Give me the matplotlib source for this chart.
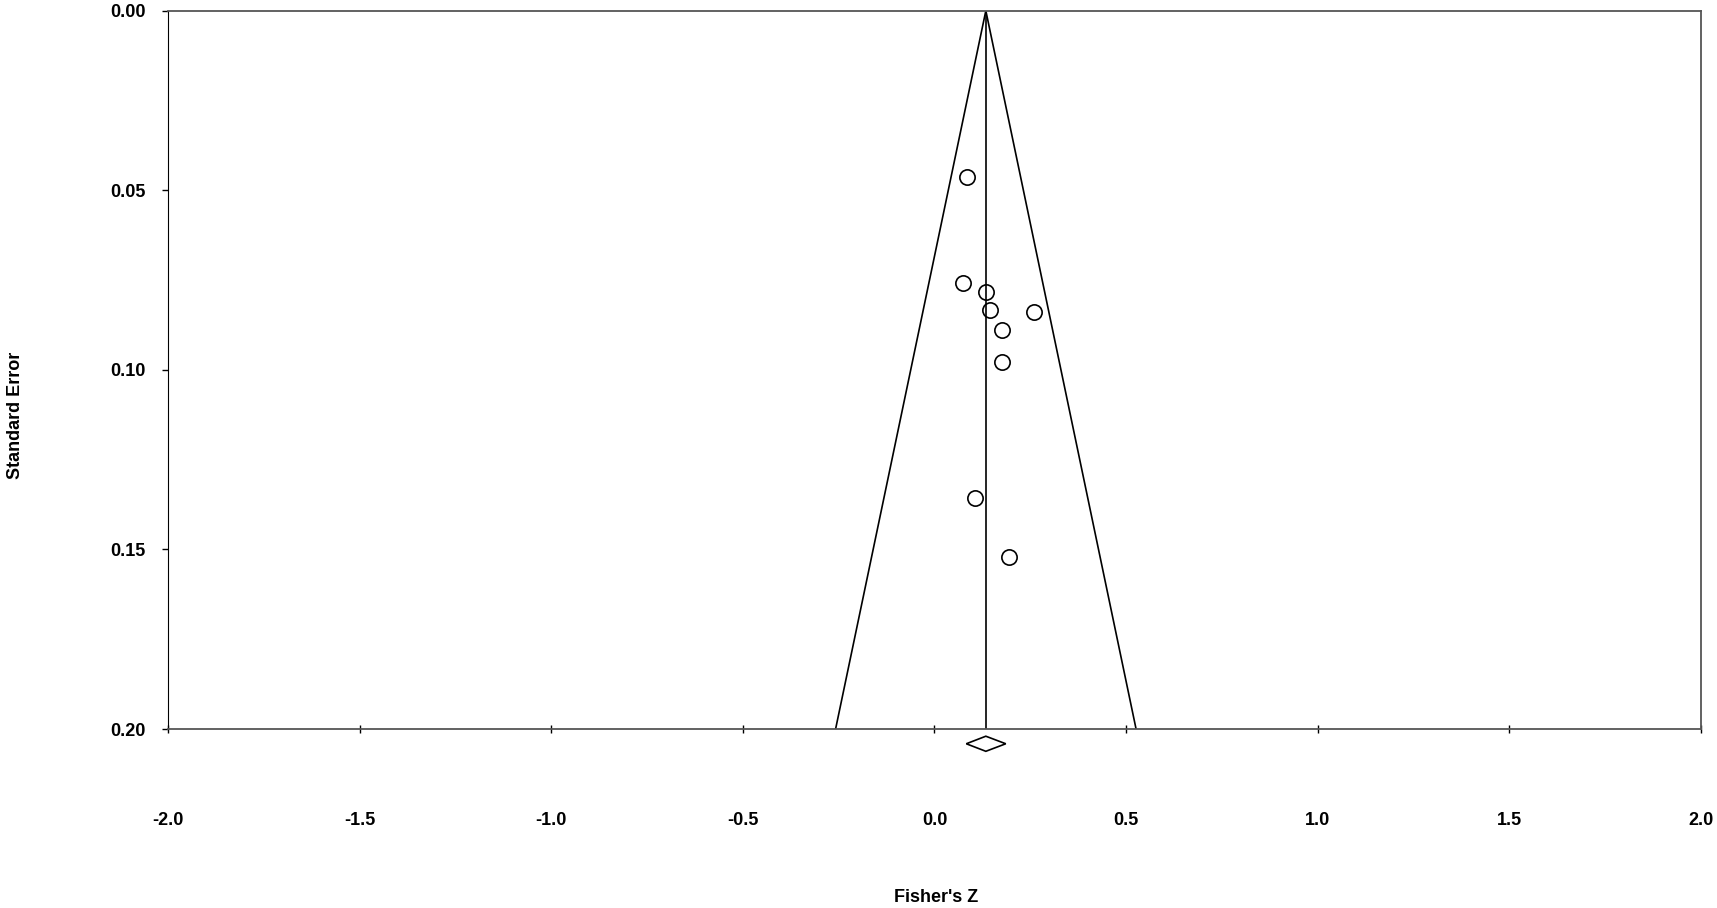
import numpy as np
import matplotlib
matplotlib.use("Agg")
import matplotlib.pyplot as plt

plt.rcParams["font.family"] = ["Liberation Sans", "DejaVu Sans"]

# study effects (Fisher's Z) and standard errors
fisher_z = [0.084, 0.074, 0.135, 0.146, 0.259, 0.176, 0.176, 0.106, 0.195]
std_err = [0.0463, 0.0759, 0.0782, 0.0833, 0.0839, 0.0890, 0.0978, 0.1357, 0.1520]

pooled = 0.134
ci_low = 0.083
ci_high = 0.186
se_max = 0.20

x_ticks = [-2.0, -1.5, -1.0, -0.5, 0.0, 0.5, 1.0, 1.5, 2.0]
y_ticks = [0.00, 0.05, 0.10, 0.15, 0.20]

fig = plt.figure(figsize=(17.17, 9.08), dpi=100)
ax = fig.add_axes([0.0978, 0.1971, 0.8929, 0.7911])

# funnel
se_line = np.array([0.0, se_max])
ax.plot(pooled - 1.96 * se_line, se_line, color="black", lw=1.2)
ax.plot(pooled + 1.96 * se_line, se_line, color="black", lw=1.2)
ax.plot([pooled, pooled], [0, se_max], color="black", lw=1.2)

ax.plot(fisher_z, std_err, "o", ms=11, mfc="none", mec="black", mew=1.2)

# pooled estimate diamond below the axis
dy = 0.0021
ax.fill([ci_low, pooled, ci_high, pooled], [0.2041, 0.2041 - dy, 0.2041, 0.2041 + dy],
        facecolor="white", edgecolor="black", lw=1.2, clip_on=False)

ax.set_xlim(-2.0, 2.0)
ax.set_ylim(0.20, 0.00)
ax.set_xticks(x_ticks)
ax.set_xticklabels([f"{v:.1f}" for v in x_ticks])
ax.set_yticks(y_ticks)
ax.set_yticklabels([f"{v:.2f}" for v in y_ticks])
ax.tick_params(axis="x", direction="inout", length=6, width=1, pad=57, labelsize=13)
ax.tick_params(axis="y", direction="out", length=4, width=1, pad=12, labelsize=13)
for lab in ax.get_xticklabels() + ax.get_yticklabels():
    lab.set_fontweight("bold")

for side in ["top", "right", "bottom"]:
    ax.spines[side].set_color("#555555")
    ax.spines[side].set_linewidth(1.3)
ax.spines["left"].set_color("black")

fig.text(0.545, 0.012, "Fisher's Z", ha="center", va="center", fontsize=13, fontweight="bold")
fig.text(0.009, 0.543, "Standard Error", ha="center", va="center", rotation=90,
         fontsize=13, fontweight="bold")

fig.savefig("out.png", dpi=100, facecolor="white")
